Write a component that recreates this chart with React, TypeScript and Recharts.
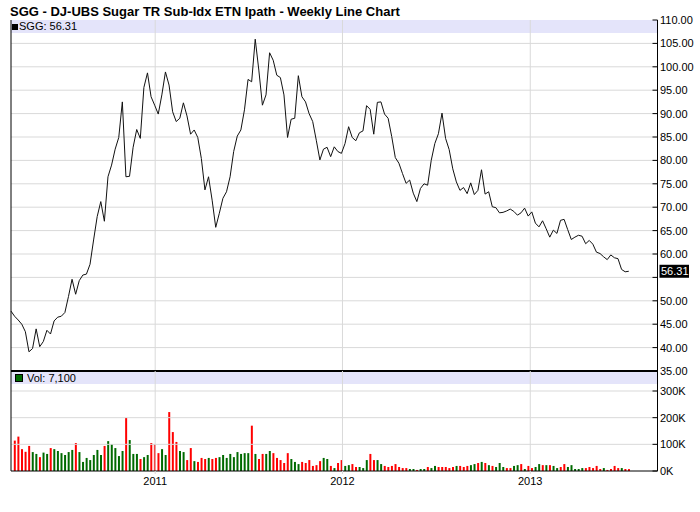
import React from "react";
import { LineChart, Line, BarChart, Bar, Cell, XAxis, YAxis, ReferenceLine } from "recharts";

const FONT = '"Liberation Sans", Arial, sans-serif';
const GRID = "#d9d9d9";
const BAND = "#e4e4fa";
const UP = "#006a00";
const DOWN = "#ff0000";

// weekly closes, week 0 ends 26 Mar 2010
const close2010 = [
  47.8, 46.7, 45.9, 45.0, 43.4, 39.1, 39.8, 44.0, 40.2, 41.3,
  43.7, 42.9, 45.7, 46.5, 46.7, 47.5, 50.9, 54.6, 51.4, 54.3,
  55.5, 55.7, 57.8, 63.0, 68.0, 71.2, 67.0, 76.5, 79.0, 82.4,
  84.9, 92.5, 76.5, 76.6, 82.8, 86.6, 84.7, 95.6, 98.7, 93.6,
  91.8,
];
const close2011 = [
  89.9, 94.0, 98.9, 96.1, 90.4, 88.3, 89.0, 92.3, 89.5, 85.6,
  86.5, 84.9, 80.4, 73.7, 76.5, 71.5, 65.7, 68.7, 71.9, 73.3,
  76.5, 81.9, 85.2, 86.5, 90.8, 97.3, 96.8, 105.9, 99.3, 91.8,
  94.0, 103.0, 101.4, 98.2, 97.7, 94.0, 84.9, 88.8, 89.0, 98.1,
  93.6, 92.5, 90.0, 88.3, 84.3, 80.1, 82.4, 82.8, 80.8, 82.9,
  81.9, 81.5,
];
const close2012 = [
  83.6, 87.2, 84.9, 84.2, 85.9, 86.3, 91.7, 90.9, 85.6, 92.4,
  92.5, 89.9, 89.0, 85.1, 80.6, 79.4, 77.2, 75.1, 75.8, 73.0,
  71.2, 74.0, 75.0, 74.7, 80.0, 83.6, 85.7, 90.1, 84.7, 82.3,
  78.2, 75.4, 73.6, 74.2, 72.9, 75.2, 72.7, 73.6, 78.0, 72.8,
  73.3, 70.1, 69.9, 68.8, 68.9, 69.2, 69.6, 69.1, 68.3, 68.8,
  69.8, 68.1,
];
const close2013 = [
  69.0, 66.6, 65.8, 67.1, 65.4, 63.6, 65.1, 64.4, 67.2, 67.4,
  65.2, 63.1, 63.6, 64.0, 63.8, 62.2, 62.9, 62.1, 60.4, 60.1,
  59.4, 58.8, 59.8, 59.2, 59.0, 56.7, 56.2, 56.31,
];

// weekly volume, thousands of shares (first week has no bar)
const vol2010 = [
  null, 114, 129, 82, 72, 94, 71, 64, 52, 69,
  64, 86, 82, 75, 67, 60, 71, 79, 105, 71,
  34, 49, 41, 60, 79, 60, 94, 112, 101, 86,
  56, 75, 199, 116, 64, 64, 45, 52, 60, 105,
  101,
];
const vol2011 = [
  67, 82, 60, 221, 146, 109, 75, 71, 41, 86,
  37, 34, 49, 45, 49, 45, 49, 52, 60, 49,
  64, 52, 71, 64, 67, 67, 170, 64, 45, 64,
  64, 75, 67, 49, 41, 30, 67, 45, 34, 26,
  34, 30, 41, 19, 22, 37, 49, 45, 19, 11,
  30, 41,
];
const vol2012 = [
  19, 22, 26, 15, 15, 11, 41, 64, 41, 41,
  26, 19, 15, 19, 26, 15, 11, 11, 7.5, 7.5,
  4, 7.5, 7.5, 15, 11, 19, 15, 15, 15, 11,
  15, 19, 19, 15, 19, 22, 26, 30, 34, 30,
  22, 19, 15, 30, 15, 11, 11, 19, 22, 26,
  7.5, 19,
];
const vol2013 = [
  11, 15, 26, 22, 22, 22, 19, 11, 15, 26,
  15, 22, 7.5, 7.5, 11, 11, 15, 11, 19, 7.5,
  11, 4, 7.5, 19, 11, 11, 7.5, 7.1,
];

// u = week closed up (green volume), d = down (red volume)
const dir2010 = "-ddddduuduuduuuuuuduuuuuuuduuuuuduuuduudd";
const dir2011 = "duuddduuddudddudduuuuuuuuududduuddddduuudddddduudu" + "dd";
const dir2012 = "uudduuudduuddddddduuduuduudddddudddu" + "udududuuudduud";
const dir2013 = "udduududuudduuuuuddddduddddu";

const yearTicks = [2011, 2012, 2013];
const priceTicks = [35, 40, 45, 50, 55, 60, 65, 70, 75, 80, 85, 90, 95, 100, 105, 110];
const volTicks = [0, 100, 200, 300];

const WEEK_MS = 7 * 24 * 3600 * 1000;
const start = Date.UTC(2010, 2, 26);
const end = start + 180 * WEEK_MS;

const closes = [...close2010, ...close2011, ...close2012, ...close2013];
const vols = [...vol2010, ...vol2011, ...vol2012, ...vol2013];
const dirs = dir2010 + dir2011 + dir2012 + dir2013;

const rows = closes.map((c, i) => ({
  t: start + i * WEEK_MS,
  close: c,
  vol: vols[i] == null ? null : Math.round((vols[i] as number) * 1000),
  up: dirs[i] === "u",
}));
const last = rows[rows.length - 1];
const yearStamps = yearTicks.map((y) => Date.UTC(y, 0, 1));

function AxisTick(props: any) {
  const { x, y, payload, mode } = props;
  const v = payload.value;
  if (mode === "price" && v === last.close) {
    return (
      <g>
        <rect x={x - 0.5} y={y - 6.5} width={29.5} height={13} fill="#000" />
        <text x={x + 1} y={y} dy="0.36em" fontSize={11} fill="#fff" fontFamily={FONT}>
          {v.toFixed(2)}
        </text>
      </g>
    );
  }
  let label = mode === "price" ? v.toFixed(2) : `${v / 1000}K`;
  if (mode === "price" && Math.abs(v - last.close) < 3) label = "";
  return (
    <g>
      <line x1={x - 7.5} x2={x - 2.5} y1={y} y2={y} stroke="#000" />
      {label && (
        <text x={x} y={y} dy="0.36em" fontSize={11} fill="#000" fontFamily={FONT}>
          {label}
        </text>
      )}
    </g>
  );
}

export default function App() {
  return (
    <div style={{ position: "absolute", left: 0, top: 0, width: 700, height: 512, background: "#fff", fontFamily: FONT, overflow: "hidden" }}>
      <div style={{ position: "absolute", left: 10, top: 4, fontSize: 13, fontWeight: "bold", lineHeight: "15px", whiteSpace: "nowrap" }}>
        SGG - DJ-UBS Sugar TR Sub-Idx ETN Ipath - Weekly Line Chart
      </div>

      {/* legend bands */}
      <div style={{ position: "absolute", left: 11, top: 20, width: 646.5, height: 13, background: BAND }} />
      <div style={{ position: "absolute", left: 11, top: 372, width: 646.5, height: 12, background: BAND }} />

      {/* price panel */}
      <div style={{ position: "absolute", left: 0, top: 0 }}>
        <LineChart width={700} height={380} data={rows} margin={{ top: 20, right: 0, bottom: 9, left: 11 }}>
          <XAxis type="number" dataKey="t" domain={[start, end]} hide />
          <YAxis
            orientation="right"
            width={42.5}
            domain={[35, 110]}
            ticks={[...priceTicks, last.close]}
            interval={0}
            tickLine={false}
            tickSize={0}
            tickMargin={2.5}
            axisLine={{ stroke: "#000" }}
            tick={(p: any) => <AxisTick {...p} mode="price" />}
          />
          {priceTicks.filter((v) => v > 35 && v < 110).map((v) => (
            <ReferenceLine key={v} y={v} stroke={GRID} />
          ))}
          {yearStamps.map((t) => (
            <ReferenceLine key={t} x={t} stroke={GRID} />
          ))}
          <Line type="linear" dataKey="close" stroke="#111" strokeWidth={1} dot={false} isAnimationActive={false} />
          <ReferenceLine x={start} stroke="#000" />
          <ReferenceLine y={35} stroke="#000" strokeWidth={2} />
        </LineChart>
      </div>

      {/* volume panel */}
      <div style={{ position: "absolute", left: 0, top: 371 }}>
        <BarChart width={700} height={141} data={rows} margin={{ top: 0, right: 0, bottom: 11, left: 11 }}>
          <XAxis
            type="number"
            dataKey="t"
            domain={[start, end]}
            ticks={yearStamps}
            interval={0}
            tickFormatter={(t: number) => String(new Date(t).getUTCFullYear())}
            height={30}
            tickSize={3}
            tickMargin={3}
            tickLine={{ stroke: GRID }}
            axisLine={{ stroke: "#000" }}
            tick={{ fontSize: 11, fill: "#000", fontFamily: FONT }}
          />
          <YAxis
            orientation="right"
            width={42.5}
            domain={[0, 375000]}
            ticks={volTicks.map((v) => v * 1000)}
            interval={0}
            tickLine={false}
            tickSize={0}
            tickMargin={2.5}
            axisLine={{ stroke: "#000" }}
            tick={(p: any) => <AxisTick {...p} mode="vol" />}
          />
          {volTicks.filter((v) => v > 0).map((v) => (
            <ReferenceLine key={v} y={v * 1000} stroke={GRID} />
          ))}
          {yearStamps.map((t) => (
            <ReferenceLine key={t} x={t} stroke={GRID} />
          ))}
          <Bar dataKey="vol" barSize={2} isAnimationActive={false}>
            {rows.map((r, i) => (
              <Cell key={i} fill={r.up ? UP : DOWN} />
            ))}
          </Bar>
          <ReferenceLine x={start} stroke="#000" />
        </BarChart>
      </div>

      {/* legends */}
      <div style={{ position: "absolute", left: 12, top: 24, width: 6, height: 6, background: "#000" }} />
      <div style={{ position: "absolute", left: 19, top: 20, fontSize: 11, lineHeight: "13px" }}>
        SGG: {last.close.toFixed(2)}
      </div>
      <div style={{ position: "absolute", left: 15, top: 374, width: 6, height: 6, background: UP, border: "1px solid #000" }} />
      <div style={{ position: "absolute", left: 27, top: 372, fontSize: 11, lineHeight: "13px" }}>
        Vol: {(last.vol as number).toLocaleString("en-US")}
      </div>
    </div>
  );
}
